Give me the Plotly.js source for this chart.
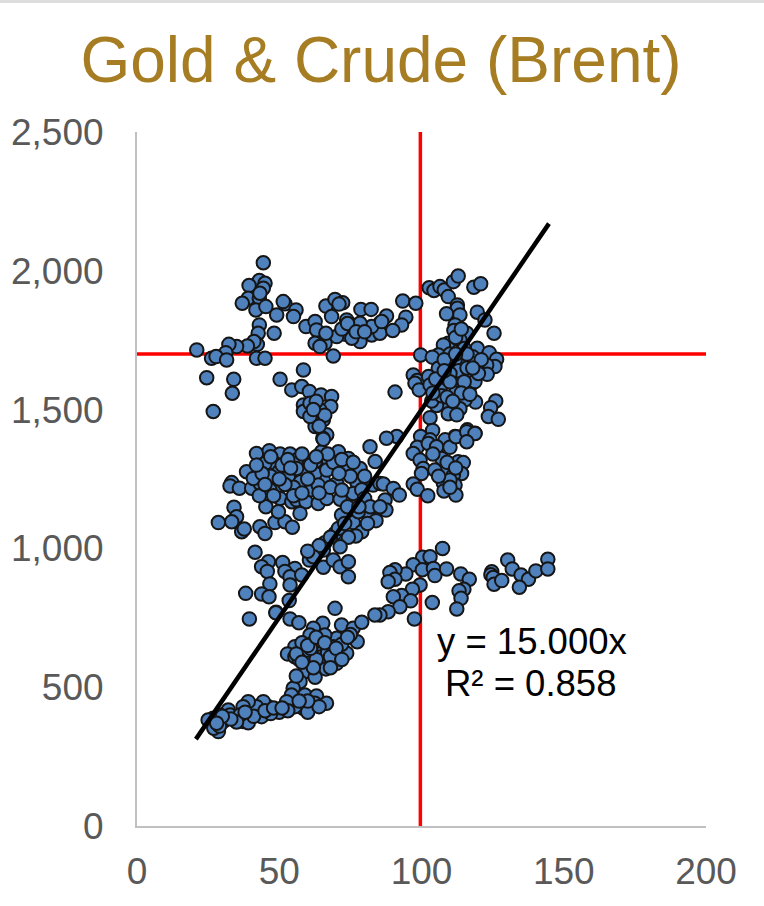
<!DOCTYPE html>
<html><head><meta charset="utf-8">
<script src="https://cdn.plot.ly/plotly-3.0.1.min.js"></script>
<style>html,body{margin:0;padding:0;background:#fff}#strip{position:absolute;left:0;top:0;width:764px;height:3px;background:#DEDEDE;z-index:5}</style></head>
<body><div id="strip"></div><div id="chart" style="width:764px;height:906px"></div>
<script>
const chartTitle = "Gold & Crude (Brent)";
const xTicks = [0,50,100,150,200];
const yTicks = [0,500,1000,1500,2000,2500];
const crossX = [99.6,99.6], crossXY = [0,2500];
const crossYX = [-0.7,200.7], crossY = [1700,1700];
const trendX = [20.7,144.8], trendY = [313,2170];
const equation = "y = 15.000x", rSquared = "R² = 0.858";
const upperPts = [[44.4,2029],[43,1965],[39.4,1947],[45,1955],[44.4,1937],[39.1,1901],[43,1901],[37,1883],[41.8,1859],[45.3,1871],[43.2,1919],[52,1881],[51.4,1889],[49.1,1841],[55.9,1859],[55,1835],[59.4,1799],[62.6,1817],[63.1,1787],[43,1805],[42.6,1775],[48.2,1775],[42.3,1735],[41.1,1745],[38.8,1729],[35,1727],[32.3,1735],[31.2,1705],[21,1715],[26.2,1685],[27.8,1691],[31.5,1679],[42,1685],[45,1685],[24.5,1615],[34,1609],[33.5,1559],[26.8,1493],[50.3,1609],[58.5,1643],[54.4,1571],[57.9,1583],[60.6,1565],[64.7,1553],[68.4,1547],[58.5,1517],[58.5,1493],[60.8,1523],[68.1,1511],[64.3,1499],[62.6,1439],[60.8,1475],[65.5,1463],[66.7,1409],[65.3,1397],[66.4,1873],[69.6,1897],[72.3,1885],[68.4,1835],[78.7,1861],[82.3,1861],[73.7,1823],[76,1793],[73.3,1771],[78.4,1745],[75.5,1757],[70.2,1763],[66.1,1739],[62.6,1739],[64.3,1727],[66.4,1775],[69,1693],[82.5,1769],[85.4,1811],[85.4,1775],[82.5,1799],[75.5,1805],[78.4,1811],[63,1530],[66,1480],[62,1500],[64,1440],[72,1790],[74,1810],[77,1780],[71,1880],[80,1780]];
const rightPts = [[87.7,1837],[86,1817],[94.5,1833],[93,1805],[89.9,1785],[93.4,1891],[98,1883],[102.7,1939],[104.4,1929],[106.5,1943],[108,1931],[111.2,1961],[112.9,1981],[109.4,1907],[112.6,1877],[112.6,1865],[108.8,1845],[113.5,1841],[118.4,1941],[120.8,1953],[119.6,1851],[122.3,1823],[125.5,1775],[111.8,1805],[111.4,1785],[115.9,1775],[113.5,1751],[109.4,1739],[107.7,1733],[105.9,1697],[99.7,1697],[103.8,1689],[119.6,1721],[123.8,1705],[126.4,1681],[125.8,1655],[122.9,1661],[123.1,1627],[114.7,1673],[111.8,1679],[109.4,1657],[105.9,1649],[119.4,1655],[117,1627],[112.9,1615],[97.1,1625],[98.5,1605],[102.5,1619],[97.7,1595],[99.2,1571],[103,1589],[108.3,1607],[106.5,1571],[112.4,1583],[117.3,1589],[118.8,1601],[90.7,1563],[126.1,1531],[124.3,1507],[123.5,1475],[127,1465],[119,1527],[115.3,1535],[113.5,1503],[107.7,1527],[105.3,1515],[103,1471],[109.4,1485],[112.4,1481],[103.6,1531],[103.9,1425],[99.7,1403],[111.8,1403],[116.1,1427],[118.8,1415],[91.3,1403],[87.7,1397],[103,1391],[108.3,1391],[110,1700],[115,1720],[113,1640],[108,1680],[116,1650],[112,1560],[105,1610],[110,1630],[118,1690],[121,1680],[107,1550],[115,1600],[120,1630],[112,1760],[114,1790],[110,1600],[108,1640],[114,1560],[118,1650],[116,1700],[112,1700],[104,1560],[109,1545],[117,1555],[111,1530]];
const midPts = [[42,1342],[46.5,1352],[50.3,1340],[53.8,1340],[38.5,1276],[33.3,1237],[32.7,1225],[36,1217],[40.3,1217],[43.2,1235],[40.9,1252],[45.6,1288],[48.5,1306],[49.9,1276],[53.2,1258],[56.1,1318],[57.5,1240],[49.7,1217],[46.7,1211],[50.3,1180],[45.3,1150],[54.4,1168],[56.1,1175],[59.4,1168],[61.4,1211],[63.7,1162],[66.7,1180],[71.4,1177],[62.6,1312],[64.9,1348],[65.5,1393],[67.3,1318],[70.8,1348],[74.3,1324],[73.1,1282],[77.2,1240],[78.4,1288],[81.9,1366],[83.7,1313],[83,1228],[85.4,1234],[70.2,1234],[65.5,1246],[62.6,1270],[59,1282],[66.7,1282],[63.7,1228],[56.1,1288],[45,1306],[76,1198],[79,1211],[71.9,1120],[76,1093],[81.3,1126],[77.8,1132],[79,1060],[76.9,1045],[74.3,1040],[71.4,1006],[69.6,1054],[70.8,1072],[65.5,994],[34.1,1148],[35,1114],[33.3,1096],[28.6,1093],[36.8,1060],[37.7,1070],[43.2,1078],[45,1054],[48.5,1093],[52,1096],[54.6,1076],[49.7,1132],[57.3,1126],[41.5,986],[46.2,952],[43.8,934],[45.8,917],[51.2,949],[55.5,928],[52,917],[53.8,898],[57.9,904],[60.6,958],[65.5,932],[69,958],[71.4,934],[74.3,952],[74.3,898],[53.8,868],[46.7,872],[43.8,836],[46.4,826],[38.2,838],[53.5,812],[48.9,770],[47,1260],[51,1300],[55,1220],[60,1250],[44,1270],[52,1230],[48,1190],[53,1320],[58,1340],[61,1300],[69,1310],[72,1320],[75,1260],[68,1220],[64,1200],[55,1190],[47,1330],[43,1190],[67,1340],[80,1180],[82,1150],[74,1150],[73,1090],[66,1020],[64,1010],[62,970],[60,990],[68,1040],[86.6,1232],[87.2,1174],[87.5,1138],[85.4,1150],[90.1,1216],[92.2,1192],[84,1100],[81,1090],[42,1300],[45,1230],[50,1250],[54,1290],[58,1200],[63,1330],[71,1270],[76,1310],[80,1260],[78,1150],[72,1210]];
const rightLowerPts = [[98.5,1364],[97.1,1342],[99.5,1318],[100.6,1288],[100,1270],[102.4,1378],[105.3,1366],[110,1364],[112.1,1402],[115.9,1420],[118.8,1414],[115.9,1384],[107.1,1324],[112.9,1312],[114.7,1309],[108.8,1276],[104.7,1282],[114.1,1270],[111.2,1264],[107.7,1235],[107.9,1207],[111.8,1228],[112.1,1192],[110,1246],[97.1,1232],[98.5,1213],[102.2,1190],[107.4,1000],[100.4,968],[103,970],[97.1,941],[100.3,923],[104.2,928],[104.7,902],[108.8,926],[113.8,908],[116.8,889],[94.5,908],[90.7,923],[88.9,913],[90.7,889],[88.3,880],[99.5,868],[96.8,853],[93,830],[90.1,826],[96.2,811],[92.4,790],[88.3,772],[85.4,760],[103.8,805],[97.5,746],[114.9,853],[113.2,847],[113.9,820],[112.4,782],[124.7,916],[124.4,905],[125.2,895],[125.5,871],[128.2,884],[130.3,958],[131.9,926],[135,904],[137.6,889],[134.4,860],[140.2,919],[144.4,961],[144.4,926],[104,1340],[109,1310],[112,1290],[106,1260],[110,1220]];
const lowerPts = [[39.5,746],[48.8,768],[53.8,746],[56.9,732],[69.6,784],[65.3,730],[62,712],[71.9,724],[76,712],[79,734],[83.6,760],[77.4,664],[73.7,622],[70.2,676],[66,688],[60.8,688],[55.5,646],[52.9,620],[55.5,610],[59,622],[64.9,646],[69,646],[64.9,610],[60.2,586],[66,586],[70.2,586],[66.4,566],[59,556],[62.6,536],[57.3,520],[54.9,496],[59,472],[63.1,468],[54.3,472],[66.6,442],[62.5,442],[58.4,424],[55.5,430],[52.6,448],[49.7,418],[46.1,430],[43.8,394],[44.4,448],[42,430],[39.1,448],[37.3,376],[39.1,372],[34.4,394],[32.1,418],[37.3,430],[29.1,400],[26.8,388],[25,382],[28.6,340],[27,352],[30.3,376],[32.7,400],[36.2,400],[62,660],[67,625],[72,655],[75,690],[58,660],[63,600],[68,610],[61,640],[74,680],[57,600],[60,410],[64,430],[50,410],[53,415],[47,405],[41,395],[35,375],[31,385],[29,360],[56,620],[60,650],[63,680],[66,660],[70,640],[72,600],[68,570],[62,570],[58,590],[56,540],[60,450],[57,450],[33,385],[38,410],[45,415],[48,425],[30,395],[28,370],[51,425]];
const goldPts = upperPts.concat(rightPts, midPts, rightLowerPts, lowerPts);
const goldCrudeX = goldPts.map(p => p[0]);
const goldCrudeY = goldPts.map(p => p[1]);
const tickFont = {family:'"Liberation Sans",Arial,sans-serif', size:37, color:'#595959'};
const noteFont = {family:'"Liberation Sans",Arial,sans-serif', size:36.5, color:'#000'};
Plotly.newPlot('chart',[
 {x:crossX,y:crossXY,mode:'lines',line:{color:'#FF0000',width:3.5},cliponaxis:false,hoverinfo:'skip'},
 {x:crossYX,y:crossY,mode:'lines',line:{color:'#FF0000',width:3.5},cliponaxis:false,hoverinfo:'skip'},
 {x:goldCrudeX,y:goldCrudeY,mode:'markers',marker:{size:13.5,color:'#4F81BD',line:{color:'#151515',width:2}},cliponaxis:false},
 {x:trendX,y:trendY,mode:'lines',line:{color:'#000',width:4.5},hoverinfo:'skip'}
],{
 width:764,height:906,showlegend:false,paper_bgcolor:'#fff',plot_bgcolor:'#fff',
 margin:{l:137,r:58,t:132,b:80},
 title:{text:chartTitle,font:{family:'"Liberation Sans",Arial,sans-serif',size:64,color:'#A67D22'},x:381/764,xanchor:'center',y:1-60/906,yanchor:'middle'},
 xaxis:{range:[0,200],tickmode:'array',tickvals:xTicks,ticktext:xTicks.map(String),showgrid:false,zeroline:false,showline:true,linecolor:'#C0C0C0',linewidth:2,ticks:'outside',ticklen:12,tickcolor:'rgba(0,0,0,0)',tickfont:tickFont},
 yaxis:{range:[0,2500],tickmode:'array',tickvals:yTicks,ticktext:yTicks.map(v=>v.toLocaleString('en-US')),showgrid:false,zeroline:false,showline:true,linecolor:'#C0C0C0',linewidth:2,ticks:'outside',ticklen:24,tickcolor:'rgba(0,0,0,0)',tickfont:tickFont},
 annotations:[
  {text:equation,xref:'x',yref:'y',x:138.8,y:663,showarrow:false,font:noteFont},
  {text:rSquared,xref:'x',yref:'y',x:138.2,y:515,showarrow:false,font:noteFont}
 ]
},{displayModeBar:false,staticPlot:true});
</script></body></html>
